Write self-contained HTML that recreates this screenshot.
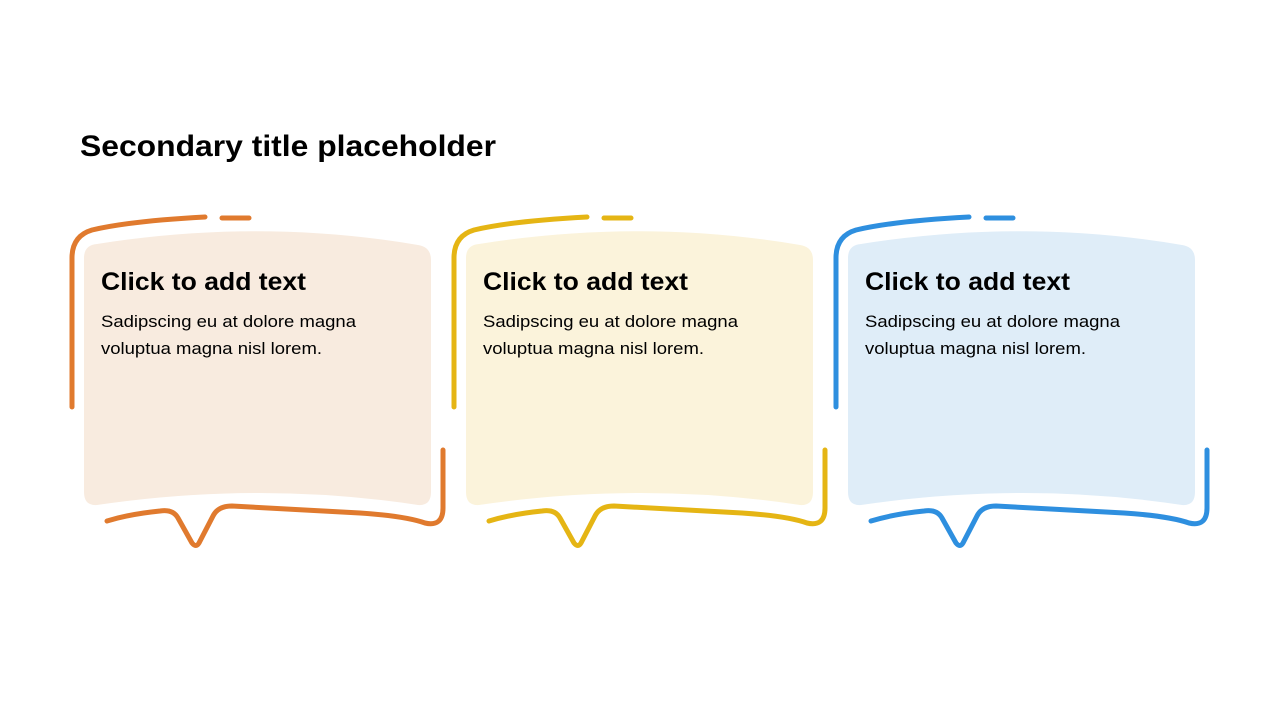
<!DOCTYPE html>
<html><head><meta charset="utf-8"><style>
html,body{margin:0;padding:0;background:#fff;}
svg{display:block;}
text{font-family:"Liberation Sans",Arial,sans-serif;fill:#000;}
</style></head><body>
<svg width="1280" height="720" viewBox="0 0 1280 720" xmlns="http://www.w3.org/2000/svg">
<defs>
<g id="card">
  <path d="M84,258 Q84,245 97,244 Q260,218 418,245 Q431,247 431,260 L431,492 Q431,506 418,505 Q260,481 97,505 Q84,506 84,492 Z"/>
</g>
<g id="lines" fill="none" stroke-width="5" stroke-linecap="round" stroke-linejoin="round">
  <path d="M72,407 L72,258 Q72,236 92,230 Q130,221 205,217"/>
  <path d="M222,218 L249,218"/>
  <path d="M443,450 L443,508 Q443,527 425,523 Q405,516 360,513 L232,506 Q218,506 213,516 L199,543 Q196,548 192,543 L178,518 Q173,509 160,511 Q130,514 107,521"/>
</g>
</defs>

<text x="80" y="156" font-size="30" font-weight="bold" textLength="416" lengthAdjust="spacingAndGlyphs">Secondary title placeholder</text>

<g>
  <use href="#card" fill="#F8EBDF"/>
  <use href="#lines" stroke="#E07A2E"/>
  <text x="101" y="290" font-size="25" font-weight="bold" textLength="205" lengthAdjust="spacingAndGlyphs">Click to add text</text>
  <text x="101" y="327" font-size="17" textLength="255" lengthAdjust="spacingAndGlyphs">Sadipscing eu at dolore magna</text>
  <text x="101" y="354" font-size="17" textLength="221" lengthAdjust="spacingAndGlyphs">voluptua magna nisl lorem.</text>
</g>
<g transform="translate(382,0)">
  <use href="#card" fill="#FBF3DB"/>
  <use href="#lines" stroke="#E5B514"/>
  <text x="101" y="290" font-size="25" font-weight="bold" textLength="205" lengthAdjust="spacingAndGlyphs">Click to add text</text>
  <text x="101" y="327" font-size="17" textLength="255" lengthAdjust="spacingAndGlyphs">Sadipscing eu at dolore magna</text>
  <text x="101" y="354" font-size="17" textLength="221" lengthAdjust="spacingAndGlyphs">voluptua magna nisl lorem.</text>
</g>
<g transform="translate(764,0)">
  <use href="#card" fill="#DFEDF8"/>
  <use href="#lines" stroke="#2E8FDF"/>
  <text x="101" y="290" font-size="25" font-weight="bold" textLength="205" lengthAdjust="spacingAndGlyphs">Click to add text</text>
  <text x="101" y="327" font-size="17" textLength="255" lengthAdjust="spacingAndGlyphs">Sadipscing eu at dolore magna</text>
  <text x="101" y="354" font-size="17" textLength="221" lengthAdjust="spacingAndGlyphs">voluptua magna nisl lorem.</text>
</g>
</svg>
</body></html>
